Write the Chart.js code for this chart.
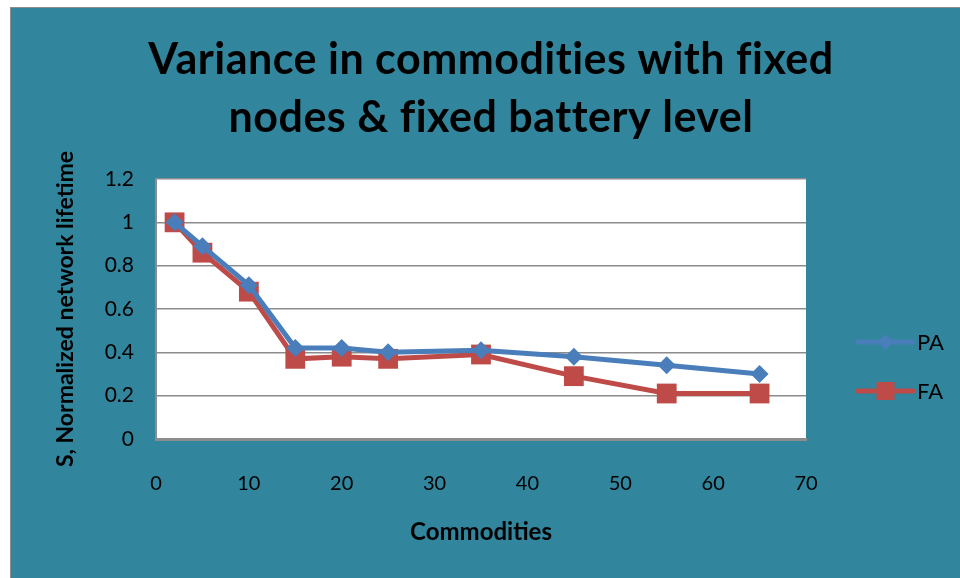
<!DOCTYPE html>
<html>
<head>
<meta charset="utf-8">
<script src="https://cdn.jsdelivr.net/npm/chart.js@4/dist/chart.umd.min.js"></script>
<style>
  html, body { margin: 0; padding: 0; background: #ffffff; }
  #frame {
    position: absolute; left: 10px; top: 7px;
    width: 950px; height: 571px;
    background: #31859c;
    border-left: 1px solid #8c8c8c; border-top: 1px solid #8c8c8c;
    box-sizing: border-box;
  }
  canvas { display: block; }
</style>
</head>
<body>
<div id="frame"><canvas id="chart" width="949" height="570"></canvas></div>
<script>
// Variance in commodities – fixed nodes & fixed battery level
const titleLines = ['Variance in commodities with fixed', 'nodes & fixed battery level'];
const commodities = [2, 5, 10, 15, 20, 25, 35, 45, 55, 65];
const paValues = [1.0, 0.89, 0.71, 0.42, 0.42, 0.40, 0.41, 0.38, 0.34, 0.30];
const faValues = [1.0, 0.86, 0.68, 0.37, 0.38, 0.37, 0.39, 0.29, 0.21, 0.21];
const xTicks = [0, 10, 20, 30, 40, 50, 60, 70];
const yTicks = [0, 0.2, 0.4, 0.6, 0.8, 1, 1.2];

const toPoints = (vals) => vals.map((v, i) => ({ x: commodities[i], y: v }));

const FONT = 'Lato, "Open Sans", sans-serif';
const BLUE = '#4a7ebb';
const RED = '#be4b48';

// white plot background
const plotBg = {
  id: 'plotBg',
  beforeDraw(chart) {
    const { ctx, chartArea: a } = chart;
    ctx.save();
    ctx.fillStyle = '#ffffff';
    ctx.fillRect(a.left, a.top, a.right - a.left, a.bottom - a.top);
    ctx.restore();
  }
};

// two-line title centred on the whole frame (not the plot)
const frameTitle = {
  id: 'frameTitle',
  afterDraw(chart) {
    const ctx = chart.ctx;
    ctx.save();
    ctx.fillStyle = '#000000';
    ctx.font = 'bold 43px ' + FONT;
    ctx.letterSpacing = '0.5px';
    ctx.textAlign = 'center';
    ctx.textBaseline = 'alphabetic';
    titleLines.forEach((t, i) => ctx.fillText(t, 480, 66 + i * 58));
    ctx.restore();
  }
};

// excel-like legend: line + marker + label
const sideLegend = {
  id: 'sideLegend',
  afterDraw(chart) {
    const ctx = chart.ctx;
    const rowsY = [334, 383];
    chart.data.datasets.forEach((ds, i) => {
      const y = rowsY[i];
      const x0 = 847, x1 = 902, xm = (x0 + x1) / 2;
      ctx.save();
      ctx.strokeStyle = ds.borderColor;
      ctx.lineWidth = 5;
      ctx.lineCap = 'round';
      ctx.beginPath(); ctx.moveTo(x0, y); ctx.lineTo(x1, y); ctx.stroke();
      ctx.fillStyle = ds.backgroundColor;
      if (ds.pointStyle === 'rectRot') {
        ctx.beginPath();
        ctx.moveTo(xm, y - 8); ctx.lineTo(xm + 8, y); ctx.lineTo(xm, y + 8); ctx.lineTo(xm - 8, y);
        ctx.closePath(); ctx.fill();
      } else {
        ctx.fillRect(xm - 9, y - 9, 18, 18);
      }
      ctx.fillStyle = '#000000';
      ctx.font = '22px ' + FONT;
      ctx.textBaseline = 'middle';
      ctx.fillText(ds.label, 906, y + 1);
      ctx.restore();
    });
  }
};

new Chart(document.getElementById('chart'), {
  type: 'line',
  data: {
    datasets: [
      {
        label: 'PA',
        data: toPoints(paValues),
        borderColor: BLUE,
        backgroundColor: BLUE,
        borderWidth: 5,
        pointStyle: 'rectRot',
        pointRadius: 9,
        pointBorderWidth: 0
      },
      {
        label: 'FA',
        data: toPoints(faValues),
        borderColor: RED,
        backgroundColor: RED,
        borderWidth: 5,
        pointStyle: 'rect',
        pointRadius: 14,
        pointBorderWidth: 0
      }
    ]
  },
  options: {
    responsive: false,
    animation: false,
    layout: { padding: { left: 0, right: 154, top: 171, bottom: 0 } },
    plugins: {
      legend: { display: false },
      tooltip: { enabled: false },
      title: { display: false }
    },
    scales: {
      x: {
        type: 'linear',
        min: 0, max: 70,
        afterBuildTicks(scale) { scale.ticks = xTicks.map(v => ({ value: v })); },
        afterFit(scale) { scale.height = 139; },
        grid: { display: false, drawTicks: false },
        border: { display: true, color: '#8c8c8c', width: 3 },
        ticks: { color: '#000000', padding: 33, font: { family: FONT, size: 20 } },
        title: {
          display: true, text: 'Commodities', color: '#000000',
          font: { family: FONT, size: 24, weight: 'bold' },
          padding: 31
        }
      },
      y: {
        min: 0, max: 1.2,
        afterBuildTicks(scale) { scale.ticks = yTicks.map(v => ({ value: v })); },
        afterFit(scale) { scale.width = 145; },
        grid: { color: '#8c8c8c', lineWidth: 1.5, drawTicks: false },
        border: { display: true, color: '#8c8c8c', width: 2 },
        ticks: {
          color: '#000000', padding: 22, font: { family: FONT, size: 21 },
          callback: (v) => String(Math.round(v * 10) / 10)
        },
        title: {
          display: true, text: 'S, Normalized network lifetime', color: '#000000',
          font: { family: FONT, size: 23, weight: 'bold' },
          padding: 41
        }
      }
    }
  },
  plugins: [plotBg, frameTitle, sideLegend]
});
</script>
</body>
</html>
